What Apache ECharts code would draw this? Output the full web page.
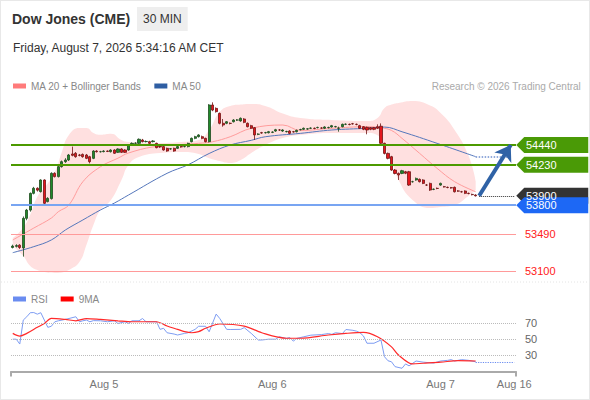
<!DOCTYPE html>
<html>
<head>
<meta charset="utf-8">
<title>Dow Jones (CME) 30 MIN</title>
<script src="https://cdn.jsdelivr.net/npm/echarts/dist/echarts.min.js"></script>
<style>
  html, body { margin: 0; padding: 0; background: #fff; }
  #wrap { position: relative; width: 590px; height: 400px; }
  #chart { width: 590px; height: 400px; }
  #frame { position: absolute; left: 0; top: 0; right: 0; bottom: 0; border: 1px solid #e8e8e8; pointer-events: none; }
</style>
</head>
<body>
<div id="wrap">
  <div id="chart"></div>
  <div id="frame"></div>
</div>
<script>
// 30 min candles, Aug 4 11:00 -> Aug 7 05:00 : [open, close, low, high]
const candles = [
  [53350, 53365, 53340, 53380], [53362, 53370, 53350, 53385], [53375, 53350, 53335, 53385], [53345, 53660, 53253, 53680],
  [53660, 53748, 53640, 53760], [53748, 53926, 53731, 53935], [53926, 53980, 53915, 53995], [53980, 53960, 53945, 53990],
  [53944, 54068, 53935, 54075], [54068, 53820, 53802, 54075], [53838, 53873, 53830, 53885], [53870, 54139, 53860, 54150],
  [54139, 54104, 54095, 54150], [54104, 54210, 54095, 54220], [54210, 54263, 54200, 54275], [54263, 54281, 54250, 54300],
  [54281, 54334, 54270, 54345], [54345, 54330, 54320, 54423], [54352, 54316, 54305, 54365], [54334, 54330, 54320, 54345],
  [54340, 54316, 54305, 54350], [54334, 54298, 54290, 54345], [54316, 54263, 54245, 54325], [54298, 54376, 54290, 54385],
  [54376, 54369, 54360, 54385], [54369, 54369, 54360, 54378], [54370, 54376, 54362, 54385], [54376, 54372, 54365, 54382],
  [54369, 54387, 54360, 54395], [54387, 54352, 54345, 54395], [54362, 54398, 54355, 54405], [54398, 54362, 54355, 54405],
  [54387, 54362, 54355, 54395], [54387, 54440, 54380, 54450], [54447, 54458, 54440, 54468], [54458, 54460, 54450, 54470],
  [54458, 54501, 54450, 54510], [54493, 54476, 54468, 54505], [54476, 54478, 54468, 54488], [54476, 54458, 54450, 54485],
  [54476, 54483, 54468, 54492], [54458, 54412, 54405, 54465], [54423, 54420, 54410, 54432], [54423, 54387, 54380, 54430],
  [54405, 54376, 54368, 54412], [54398, 54400, 54390, 54408], [54405, 54376, 54368, 54412], [54405, 54423, 54398, 54430],
  [54423, 54420, 54412, 54430], [54423, 54425, 54415, 54432], [54423, 54458, 54415, 54465], [54476, 54511, 54468, 54520],
  [54511, 54529, 54502, 54538], [54529, 54547, 54520, 54555], [54529, 54511, 54502, 54540], [54511, 54476, 54468, 54518],
  [54476, 54866, 54468, 54875], [54866, 54812, 54800, 54894], [54830, 54795, 54785, 54840], [54777, 54671, 54660, 54785],
  [54671, 54653, 54635, 54717], [54671, 54688, 54662, 54695], [54671, 54670, 54660, 54680], [54688, 54706, 54680, 54715],
  [54706, 54706, 54696, 54716], [54696, 54724, 54688, 54733], [54717, 54681, 54672, 54726], [54671, 54635, 54628, 54680],
  [54646, 54618, 54610, 54655], [54625, 54547, 54494, 54632], [54554, 54556, 54545, 54565], [54571, 54568, 54560, 54580],
  [54571, 54572, 54562, 54580], [54571, 54582, 54563, 54590], [54575, 54578, 54567, 54586], [54589, 54603, 54580, 54612],
  [54600, 54600, 54590, 54610], [54589, 54600, 54580, 54608], [54582, 54584, 54574, 54592], [54589, 54564, 54555, 54597],
  [54582, 54580, 54572, 54590], [54582, 54596, 54574, 54604], [54603, 54605, 54595, 54613], [54607, 54618, 54600, 54626],
  [54610, 54612, 54602, 54620], [54618, 54620, 54610, 54628], [54618, 54616, 54608, 54626], [54625, 54627, 54617, 54635],
  [54621, 54620, 54612, 54630], [54618, 54632, 54610, 54640], [54625, 54627, 54617, 54635], [54632, 54646, 54625, 54654],
  [54635, 54636, 54627, 54644], [54618, 54620, 54582, 54635], [54635, 54660, 54628, 54668], [54660, 54661, 54652, 54670],
  [54660, 54658, 54650, 54668], [54667, 54665, 54657, 54675], [54660, 54659, 54650, 54668], [54646, 54618, 54610, 54655],
  [54635, 54607, 54598, 54642], [54628, 54600, 54554, 54636], [54625, 54607, 54598, 54632], [54625, 54607, 54598, 54632],
  [54635, 54618, 54610, 54660], [54640, 54458, 54450, 54670], [54458, 54351, 54340, 54465], [54351, 54298, 54288, 54360],
  [54316, 54174, 54165, 54325], [54174, 54138, 54128, 54185], [54138, 54121, 54068, 54148], [54138, 54167, 54130, 54176],
  [54156, 54140, 54130, 54165], [54156, 54014, 54005, 54165], [54050, 54050, 54040, 54060], [54068, 54085, 54060, 54094],
  [54075, 54050, 54042, 54084], [54068, 54032, 54024, 54076], [54014, 54014, 54005, 54024], [54032, 53961, 53952, 54040],
  [53968, 53970, 53960, 53978], [53979, 53978, 53970, 53988], [54014, 54032, 54006, 54040], [53997, 53995, 53988, 54005],
  [53990, 53988, 53980, 53998], [53986, 53984, 53976, 53994], [53990, 53943, 53935, 53998], [53951, 53950, 53942, 53960],
  [53943, 53942, 53934, 53952], [53951, 53926, 53918, 53958], [53926, 53924, 53916, 53934], [53915, 53912, 53904, 53922],
  [53908, 53900, 53892, 53916]
];

// indicator lines: [candle index, value]
const ma20 = [[0, 53430], [6, 53557], [11, 53663], [13, 53731], [16, 53802], [20, 54050], [25, 54209], [30, 54300],
  [33, 54355], [40, 54420], [48, 54445], [53, 54458], [57, 54475], [62, 54528], [68, 54618], [77, 54653], [82, 54595],
  [91, 54618], [101, 54635], [105, 54624], [108, 54595], [111, 54511], [116, 54352], [121, 54192], [126, 54050], [132, 53943]];
const ma50 = [[0, 53295], [6, 53359], [11, 53430], [15, 53536], [20, 53643], [25, 53749], [29, 53823], [33, 53908],
  [44, 54139], [50, 54230], [56, 54350], [62, 54440], [68, 54490], [72, 54528], [82, 54564], [91, 54600], [101, 54618],
  [106, 54631], [111, 54581], [121, 54458], [132, 54316]];
// Bollinger bands at the same candles: index, upper, lower
const bbIdx   = [0, 3, 5, 7, 9, 12, 14, 16, 19, 21, 23, 25, 28, 31, 33, 36, 42, 48, 53, 56, 59, 62, 65, 68,
  72, 77, 82, 91, 101, 104, 106, 108, 110, 114, 119, 122, 126, 130, 132];
const bbUpper = [53451, 53560, 53700, 53890, 53983, 54153, 54366, 54546, 54621, 54621, 54568, 54550, 54560, 54493,
  54472, 54465, 54462, 54472, 54493, 54600, 54791, 54855, 54870, 54876, 54855, 54775, 54727, 54706, 54695, 54727,
  54833, 54870, 54887, 54908, 54860, 54780, 54600, 54323, 54057];
const bbLower = [53366, 53260, 53153, 53110, 53089, 53080, 53085, 53111, 53196, 53377, 53589, 53749, 53855, 54068,
  54227, 54312, 54355, 54366, 54345, 54300, 54270, 54249, 54280, 54355, 54440, 54514, 54546, 54568, 54568, 54545,
  54420, 54280, 54068, 53855, 53770, 53780, 53802, 53900, 53961];

const rsi = [[0, 50], [1, 50], [2, 44], [3, 73.7], [4, 77.8], [5, 82.8], [6, 83], [7, 81], [8, 82.8], [10, 64.7],
  [11, 66], [12, 71.6], [13, 72.8], [15, 74.5], [18, 77.8], [19, 71.6], [20, 72.8], [21, 73.7], [22, 71.6], [23, 73],
  [25, 72.8], [27, 71.6], [29, 72.8], [30, 69.5], [32, 71.6], [33, 69.5], [34, 72.8], [36, 72.8], [37, 75.6], [38, 71.6],
  [41, 71.6], [42, 62.2], [43, 63.5], [44, 58], [46, 56.4], [47, 55.2], [49, 57.2], [50, 58], [52, 62.2], [53, 66],
  [55, 66], [56, 59.2], [58, 81.1], [59, 75.8], [61, 62.2], [62, 62], [65, 62.2], [66, 64.3], [68, 57.2], [70, 49],
  [71, 49], [73, 50], [75, 50], [76, 53], [78, 51], [79, 52], [80, 47.6], [81, 51], [83, 53], [85, 55], [88, 55.7],
  [90, 57], [91, 56], [92, 58], [94, 57], [95, 62], [97, 61], [98, 60], [99, 58], [100, 54], [101, 45], [103, 45],
  [105, 49], [106, 28.3], [107, 23.3], [108, 22], [109, 16], [111, 14], [112, 19.4], [113, 17], [115, 23], [117, 21.6],
  [120, 20.4], [122, 23], [124, 23.8], [125, 24.7], [126, 23], [128, 24.7], [130, 23.8], [132, 22]];
const rsiMa9 = [[0, 57.2], [2, 53.9], [4, 57.2], [7, 64.7], [9, 69.5], [11, 75.8], [15, 74.5], [18, 72.8], [21, 75.6],
  [25, 74.5], [30, 72.8], [34, 71.6], [41, 71.6], [44, 66.3], [47, 62.2], [49, 59.4], [51, 58], [53, 59.4], [55, 63.5],
  [59, 68.8], [66, 66.3], [71, 58], [78, 51.2], [82, 51.2], [90, 55.2], [95, 57.2], [100, 58.4], [104, 53], [108, 40.5],
  [110, 30.4], [114, 19.4], [117, 20.2], [122, 21.5], [127, 23.5], [132, 23]];

// key levels
const resistances = [54440, 54230];
const supports = [53490, 53100];
const pivot = 53800;
const lastPrice = 53900;
const target = 54440;

// x axis: 144 slots (candles + empty room on the right), labels at midnight
const slotCount = 144;
const tickIdx = [26, 74, 122, 143];
const tickText = ['Aug 5', 'Aug 6', 'Aug 7', 'Aug 16'];
const rsiLevels = [70, 50, 30];

const slots = [];
for (let i = 0; i < slotCount; i++) slots.push(String(i));

// band as stacked area: transparent lower edge + (upper - lower) filled
const bandBase = bbIdx.map((i, k) => [i, bbLower[k]]);
const bandWidth = bbIdx.map((i, k) => [i, bbUpper[k] - bbLower[k]]);

const lastIdx = candles.length - 1;
const lastSlot = slotCount - 1;
const font = 'Liberation Sans, Arial, sans-serif';

function tag(value, color) {
  return {
    coord: [lastSlot, value],
    value: value,
    itemStyle: { color: color }
  };
}

const chart = echarts.init(document.getElementById('chart'), null, { renderer: 'svg' });

chart.setOption({
  animation: false,
  textStyle: { fontFamily: font },
  title: [
    { text: 'Dow Jones (CME)', left: 12, top: 12, padding: 0,
      textStyle: { fontSize: 14, fontWeight: 'bold', color: '#333' } },
    { text: '30 MIN', left: 137, top: 7, padding: [6, 6], backgroundColor: '#eeeeee',
      textStyle: { fontSize: 12, fontWeight: 'normal', color: '#333' } },
    { text: 'Friday, August 7, 2026 5:34:16 AM CET', left: 13, top: 42, padding: 0,
      textStyle: { fontSize: 12, fontWeight: 'normal', color: '#333' } },
    { text: 'Research © 2026 Trading Central', right: 9, top: 81, padding: 0,
      textStyle: { fontSize: 10, fontWeight: 'normal', color: '#aaa' } }
  ],
  legend: [
    { data: ['MA 20 + Bollinger Bands', 'MA 50'], left: 13, top: 81, padding: 0, icon: 'rect',
      itemWidth: 13, itemHeight: 5, itemGap: 13, selectedMode: false,
      textStyle: { fontSize: 10, color: '#888' } },
    { data: ['RSI', '9MA'], left: 13, top: 294, padding: 0, icon: 'rect',
      itemWidth: 13, itemHeight: 5, itemGap: 13, selectedMode: false,
      textStyle: { fontSize: 10, color: '#888' } }
  ],
  graphic: [
    { type: 'line', shape: { x1: 1, y1: 282, x2: 589, y2: 282 }, silent: true,
      style: { stroke: '#e4e4e4', lineWidth: 1, lineDash: [1, 2] } }
  ],
  grid: [
    { left: 11, right: 74, top: 95.2, height: 185.2 },
    { left: 11, right: 74, top: 306.9, height: 64.6 }
  ],
  xAxis: [
    { type: 'category', gridIndex: 0, data: slots, boundaryGap: true, show: false },
    { type: 'category', gridIndex: 1, data: slots, boundaryGap: true,
      axisLine: { lineStyle: { color: '#aaa', width: 2 } },
      axisTick: { show: true, length: 5, interval: function (i) { return i === 0; },
        lineStyle: { color: '#aaa', width: 2 } },
      axisLabel: { color: '#777', fontSize: 11, margin: 7,
        interval: function (i) { return tickIdx.indexOf(i) >= 0; },
        formatter: function (v, i) { return tickText[tickIdx.indexOf(i)] || ''; } },
      splitLine: { show: false } }
  ],
  yAxis: [
    { type: 'value', gridIndex: 0, min: 53000, max: 54970, show: false, splitLine: { show: false } },
    { type: 'value', gridIndex: 1, min: 10, max: 90, interval: 20, position: 'right',
      axisLine: { show: false }, axisTick: { show: false }, splitLine: { show: false },
      axisLabel: { color: '#666', fontSize: 11, margin: 9,
        formatter: function (v) { return rsiLevels.indexOf(v) >= 0 ? String(v) : ''; } } }
  ],
  series: [
    // Bollinger envelope
    { name: 'bbBase', type: 'line', data: bandBase, stack: 'bb', smooth: 0.5, symbol: 'none', silent: true, z: 1,
      lineStyle: { width: 0 } },
    { name: 'bbFill', type: 'line', data: bandWidth, stack: 'bb', smooth: 0.5, symbol: 'none', silent: true, z: 1,
      lineStyle: { width: 0 }, areaStyle: { color: '#ffe0e0', opacity: 1 } },
    { name: 'MA 20 + Bollinger Bands', type: 'line', data: ma20, smooth: 0.4, symbol: 'none', z: 3,
      itemStyle: { color: '#ff7b7b' }, lineStyle: { color: '#ff9c9c', width: 1 } },
    { name: 'MA 50', type: 'line', data: ma50, smooth: 0.4, symbol: 'none', z: 3,
      itemStyle: { color: '#2f5ea3' }, lineStyle: { color: '#5577bb', width: 1 },
      markLine: {
        silent: true, symbol: 'none', label: { show: false },
        lineStyle: { color: '#6f8fcf', width: 1.5, type: 'dotted' },
        data: [[{ coord: [lastIdx, ma50[ma50.length - 1][1]] }, { coord: [lastSlot - 2, ma50[ma50.length - 1][1]] }]]
      } },
    { name: 'Dow', type: 'candlestick', data: candles, barWidth: '74%', z: 4,
      itemStyle: { color: '#1f8a2a', color0: '#e3161c', borderColor: '#1e4a1e', borderColor0: '#701414', borderWidth: 0.8 },
      markLine: {
        silent: true, symbol: 'none',
        label: { show: false },
        data: [
          { yAxis: resistances[0], lineStyle: { color: '#4c9a00', width: 2, type: 'solid' } },
          { yAxis: resistances[1], lineStyle: { color: '#4c9a00', width: 2, type: 'solid' } },
          { yAxis: pivot, lineStyle: { color: '#78a5f2', width: 2, type: 'solid' } },
          { yAxis: supports[0], lineStyle: { color: '#ff9a9a', width: 1, type: 'solid' },
            label: { show: true, position: 'end', formatter: '{c}', color: '#ff2020', fontSize: 11, distance: 9 } },
          { yAxis: supports[1], lineStyle: { color: '#ff9a9a', width: 1, type: 'solid' },
            label: { show: true, position: 'end', formatter: '{c}', color: '#ff2020', fontSize: 11, distance: 9 } },
          [{ coord: [lastIdx + 1, lastPrice], lineStyle: { color: '#333', width: 1, type: 'dotted' } },
           { coord: [lastSlot, lastPrice] }],
          [{ coord: [lastIdx + 1, lastPrice], symbol: 'none', lineStyle: { color: '#2f62a6', width: 4, type: 'solid' } },
           { coord: [lastSlot - 1, target], symbol: 'arrow', symbolSize: 15 }]
        ]
      },
      markPoint: {
        silent: true,
        symbol: 'path://M0,8L8,0L72,0L72,16L8,16Z',
        symbolSize: [72, 16],
        symbolKeepAspect: false,
        symbolOffset: [38, 0],
        label: { show: true, position: 'inside', offset: [-11, 0], formatter: '{c}', color: '#fff', fontSize: 11 },
        data: [
          tag(resistances[0], '#4a9a06'),
          tag(resistances[1], '#4a9a06'),
          tag(lastPrice, '#333333'),
          tag(pivot, '#1d68f5')
        ]
      } },
    { name: 'RSI', type: 'line', xAxisIndex: 1, yAxisIndex: 1, data: rsi, symbol: 'none',
      itemStyle: { color: '#6a8cf0' }, lineStyle: { color: '#7d9cf2', width: 1 },
      markLine: {
        silent: true, symbol: 'none', label: { show: false },
        data: [
          { yAxis: rsiLevels[0], lineStyle: { color: '#bbb', width: 1, type: 'dotted' } },
          { yAxis: rsiLevels[1], lineStyle: { color: '#bbb', width: 1, type: 'dotted' } },
          { yAxis: rsiLevels[2], lineStyle: { color: '#bbb', width: 1, type: 'dotted' } },
          [{ coord: [lastIdx, rsi[rsi.length - 1][1]], lineStyle: { color: '#6a8cf0', width: 1.2, type: 'dotted' } },
           { coord: [lastSlot, rsi[rsi.length - 1][1]] }]
        ]
      } },
    { name: '9MA', type: 'line', xAxisIndex: 1, yAxisIndex: 1, data: rsiMa9, smooth: 0.3, symbol: 'none',
      itemStyle: { color: '#ff0000' }, lineStyle: { color: '#ff2a2a', width: 1.2 } }
  ]
});
</script>
</body>
</html>
